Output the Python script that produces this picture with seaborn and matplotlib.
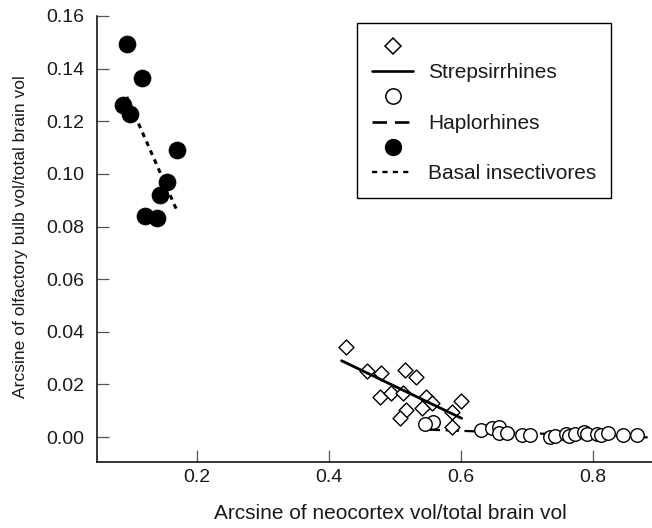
import pandas as pd
import seaborn as sns
import matplotlib.pyplot as plt
from matplotlib.lines import Line2D

# Dados
strep_x = [0.425, 0.457, 0.479, 0.515, 0.532, 0.477, 0.494, 0.512, 0.547, 0.556,
           0.541, 0.517, 0.508, 0.600, 0.587, 0.587]
strep_y = [0.0343, 0.0251, 0.0243, 0.0254, 0.0229, 0.0152, 0.0169, 0.0166, 0.0152, 0.0131,
           0.0109, 0.0102, 0.0071, 0.0137, 0.0096, 0.0038]

haplo_x = [0.558, 0.546, 0.631, 0.647, 0.657, 0.657, 0.670, 0.692, 0.704, 0.735,
           0.742, 0.759, 0.763, 0.773, 0.786, 0.791, 0.806, 0.812, 0.822, 0.845, 0.866]
haplo_y = [0.0058, 0.0051, 0.0026, 0.0034, 0.0039, 0.0016, 0.0014, 0.0008, 0.0006, 0.0000,
           0.0004, 0.0010, 0.0004, 0.0010, 0.0020, 0.0010, 0.0010, 0.0006, 0.0016, 0.0008, 0.0008]

basal_x = [0.0935, 0.116, 0.088, 0.0985, 0.169, 0.154, 0.144, 0.121, 0.140]
basal_y = [0.1492, 0.1363, 0.1261, 0.1229, 0.1090, 0.0969, 0.0918, 0.0839, 0.0833]

# Retas de ajuste (extremos)
strep_fit_x = [0.419, 0.601]
strep_fit_y = [0.0290, 0.0071]
haplo_fit_x = [0.548, 0.890]
haplo_fit_y = [0.0028, -0.0002]
basal_fit_x = [0.0935, 0.170]
basal_fit_y = [0.1293, 0.0858]

xticks = [0.2, 0.4, 0.6, 0.8]
xtick_labels = ['0.2', '0.4', '0.6', '0.8']
yticks = [0.00, 0.02, 0.04, 0.06, 0.08, 0.10, 0.12, 0.14, 0.16]
ytick_labels = ['0.00', '0.02', '0.04', '0.06', '0.08', '0.10', '0.12', '0.14', '0.16']

sns.set_style('ticks')
plt.rcParams['font.family'] = ['Liberation Sans', 'DejaVu Sans']

fig = plt.figure(figsize=(6.52, 5.28), dpi=100)
ax = fig.add_axes([0.1488, 0.125, 0.8512, 0.8447])

# Haplorhines: linha por baixo dos círculos
sns.lineplot(x=haplo_fit_x, y=haplo_fit_y, ax=ax, color='black', lw=1.6,
             linestyle=(0, (6, 2.5)), zorder=1)
sns.scatterplot(x=haplo_x, y=haplo_y, ax=ax, marker='o', s=95, facecolor='white',
                edgecolor='black', linewidth=1.0, zorder=2)

sns.scatterplot(x=strep_x, y=strep_y, ax=ax, marker='D', s=58, facecolor='white',
                edgecolor='black', linewidth=1.0, zorder=3)
sns.lineplot(x=strep_fit_x, y=strep_fit_y, ax=ax, color='black', lw=2.0, zorder=4)

sns.scatterplot(x=basal_x, y=basal_y, ax=ax, marker='o', s=150, color='black',
                edgecolor='black', linewidth=0.5, zorder=3)
sns.lineplot(x=basal_fit_x, y=basal_fit_y, ax=ax, color='black', lw=2.2,
             linestyle=(0, (1.6, 1.6)), zorder=4)

ax.set_xlim(0.0485, 0.8894)
ax.set_ylim(-0.0095, 0.16)
ax.set_xticks(xticks)
ax.set_xticklabels(xtick_labels)
ax.set_yticks(yticks)
ax.set_yticklabels(ytick_labels)
ax.tick_params(direction='in', length=8.5, width=0.9, color='#555555',
               labelsize=14, labelcolor='#1a1a1a')
ax.tick_params(axis='x', pad=5)
ax.tick_params(axis='y', pad=9)
sns.despine(ax=ax)
for s in ['left', 'bottom']:
    ax.spines[s].set_linewidth(1.1)
    ax.spines[s].set_color('black')

ax.set_xlabel('Arcsine of neocortex vol/total brain vol', fontsize=15, color='#1a1a1a')
ax.set_ylabel('Arcsine of olfactory bulb vol/total brain vol', fontsize=12.6, color='#1a1a1a')
ax.xaxis.set_label_coords(0.528, -0.095)
ax.yaxis.set_label_coords(-0.125, 0.505)

handles = [
    Line2D([], [], ls='none', marker='D', ms=8, mfc='white', mec='black', mew=1.1),
    Line2D([], [], color='black', lw=1.9),
    Line2D([], [], ls='none', marker='o', ms=11, mfc='white', mec='black', mew=1.1),
    Line2D([], [], color='black', lw=1.9, linestyle=(0, (5.5, 3))),
    Line2D([], [], ls='none', marker='o', ms=11.5, mfc='black', mec='black'),
    Line2D([], [], color='black', lw=1.7, linestyle=(0, (2.2, 2.2))),
]
labels = ['', 'Strepsirrhines', '', 'Haplorhines', '', 'Basal insectivores']
leg = ax.legend(handles, labels, loc='upper left', bbox_to_anchor=(0.4685, 0.984),
                borderaxespad=0, fontsize=15, frameon=True, fancybox=False,
                framealpha=1, edgecolor='black', handlelength=1.97,
                handletextpad=0.72, labelspacing=0.3, borderpad=0.72)
leg.get_frame().set_linewidth(1.0)
for t in leg.get_texts():
    t.set_color('#1a1a1a')

plt.savefig('out.png', dpi=100)
plt.close()
